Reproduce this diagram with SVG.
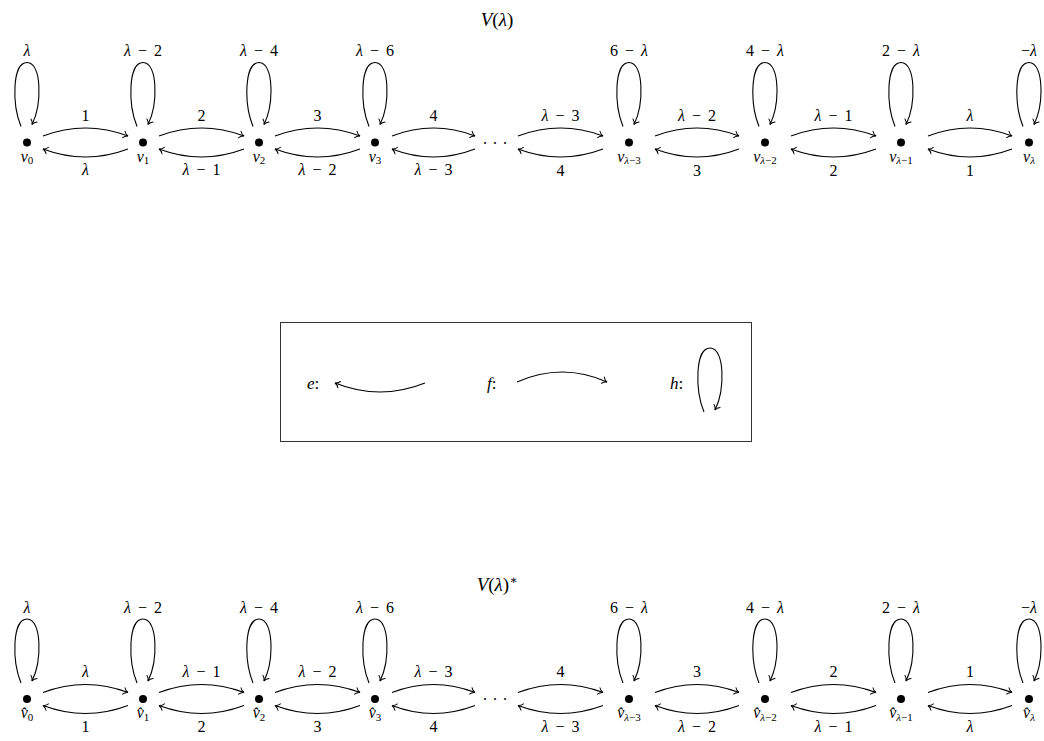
<svg xmlns="http://www.w3.org/2000/svg" width="1044" height="741" viewBox="0 0 1044 741" font-family="'Liberation Serif', 'DejaVu Serif', serif">
<defs>
<marker id="ar" viewBox="-6 -5 8 10" refX="0" refY="0" markerWidth="8" markerHeight="10" markerUnits="userSpaceOnUse" orient="auto" overflow="visible">
<path d="M-4.5,-3.4 C-3.2,-1.3 -1.2,-0.3 0,0 C-1.2,0.3 -3.2,1.3 -4.5,3.4" fill="none" stroke="#000" stroke-width="1" stroke-linecap="round"/>
</marker>
<path id="loop" d="M-6,-16 C-15,-38 -15,-80 0,-80 C15,-80 15,-38 5,-18"/>
</defs>
<style>
text{font-family:"Liberation Serif","DejaVu Serif",serif;fill:#000}
.el{font-size:16px;text-anchor:middle;word-spacing:3px}
.nl{font-size:16px;text-anchor:middle}
.sub{font-size:11px}
.i{font-style:italic}
.t{font-size:19px;text-anchor:middle}
.e{fill:none;stroke:#000;stroke-width:1.1;marker-end:url(#ar)}
.dot{fill:#000}
.box{fill:none;stroke:#333;stroke-width:1}
</style>
<rect width="1044" height="741" fill="#fff"/>

<text class="t" x="497" y="26"><tspan class="i">V</tspan>(<tspan class="i">λ</tspan>)</text>
<text class="t" x="497" y="591"><tspan class="i">V</tspan>(<tspan class="i">λ</tspan>)<tspan font-size="12" dy="-7">∗</tspan></text>

<g id="edges">
<path class="e" d="M43,136 Q85.5,120 128,136"/>
<path class="e" d="M159,136 Q201.5,120 244,136"/>
<path class="e" d="M275,136 Q317.5,120 360,136"/>
<path class="e" d="M392,136 Q433.5,120 475,136"/>
<path class="e" d="M518,136 Q560.5,120 603,136"/>
<path class="e" d="M655,136 Q697,120 739,136"/>
<path class="e" d="M791,136 Q833.5,120 876,136"/>
<path class="e" d="M928,136 Q970,120 1012,136"/>
<path class="e" d="M128,149 Q85.5,165 43,149"/>
<path class="e" d="M244,149 Q201.5,165 159,149"/>
<path class="e" d="M360,149 Q317.5,165 275,149"/>
<path class="e" d="M475,149 Q433.5,165 392,149"/>
<path class="e" d="M603,149 Q560.5,165 518,149"/>
<path class="e" d="M739,149 Q697,165 655,149"/>
<path class="e" d="M876,149 Q833.5,165 791,149"/>
<path class="e" d="M1012,149 Q970,165 928,149"/>

<path class="e" d="M43,692.5 Q85.5,676.5 128,692.5"/>
<path class="e" d="M159,692.5 Q201.5,676.5 244,692.5"/>
<path class="e" d="M275,692.5 Q317.5,676.5 360,692.5"/>
<path class="e" d="M392,692.5 Q433.5,676.5 475,692.5"/>
<path class="e" d="M518,692.5 Q560.5,676.5 603,692.5"/>
<path class="e" d="M655,692.5 Q697,676.5 739,692.5"/>
<path class="e" d="M791,692.5 Q833.5,676.5 876,692.5"/>
<path class="e" d="M928,692.5 Q970,676.5 1012,692.5"/>
<path class="e" d="M128,705.5 Q85.5,721.5 43,705.5"/>
<path class="e" d="M244,705.5 Q201.5,721.5 159,705.5"/>
<path class="e" d="M360,705.5 Q317.5,721.5 275,705.5"/>
<path class="e" d="M475,705.5 Q433.5,721.5 392,705.5"/>
<path class="e" d="M603,705.5 Q560.5,721.5 518,705.5"/>
<path class="e" d="M739,705.5 Q697,721.5 655,705.5"/>
<path class="e" d="M876,705.5 Q833.5,721.5 791,705.5"/>
<path class="e" d="M1012,705.5 Q970,721.5 928,705.5"/>

<use href="#loop" class="e" transform="translate(27,142.5)"/>
<use href="#loop" class="e" transform="translate(143,142.5)"/>
<use href="#loop" class="e" transform="translate(259,142.5)"/>
<use href="#loop" class="e" transform="translate(375,142.5)"/>
<use href="#loop" class="e" transform="translate(629,142.5)"/>
<use href="#loop" class="e" transform="translate(765,142.5)"/>
<use href="#loop" class="e" transform="translate(901,142.5)"/>
<use href="#loop" class="e" transform="translate(1029,142.5)"/>
<use href="#loop" class="e" transform="translate(27,699)"/>
<use href="#loop" class="e" transform="translate(143,699)"/>
<use href="#loop" class="e" transform="translate(259,699)"/>
<use href="#loop" class="e" transform="translate(375,699)"/>
<use href="#loop" class="e" transform="translate(629,699)"/>
<use href="#loop" class="e" transform="translate(765,699)"/>
<use href="#loop" class="e" transform="translate(901,699)"/>
<use href="#loop" class="e" transform="translate(1029,699)"/>

<text class="el" x="85.5" y="120.5">1</text>
<text class="el" x="201.5" y="120.5">2</text>
<text class="el" x="317.5" y="120.5">3</text>
<text class="el" x="433.5" y="120.5">4</text>
<text class="el" x="560.5" y="120.5"><tspan class="i">λ</tspan> − 3</text>
<text class="el" x="697" y="120.5"><tspan class="i">λ</tspan> − 2</text>
<text class="el" x="833.5" y="120.5"><tspan class="i">λ</tspan> − 1</text>
<text class="el" x="970" y="120.5"><tspan class="i">λ</tspan></text>
<text class="el" x="85.5" y="175"><tspan class="i">λ</tspan></text>
<text class="el" x="201.5" y="175"><tspan class="i">λ</tspan> − 1</text>
<text class="el" x="317.5" y="175"><tspan class="i">λ</tspan> − 2</text>
<text class="el" x="433.5" y="175"><tspan class="i">λ</tspan> − 3</text>
<text class="el" x="560.5" y="176">4</text>
<text class="el" x="697" y="176">3</text>
<text class="el" x="833.5" y="176">2</text>
<text class="el" x="970" y="176">1</text>

<text class="el" x="85.5" y="677"><tspan class="i">λ</tspan></text>
<text class="el" x="201.5" y="677"><tspan class="i">λ</tspan> − 1</text>
<text class="el" x="317.5" y="677"><tspan class="i">λ</tspan> − 2</text>
<text class="el" x="433.5" y="677"><tspan class="i">λ</tspan> − 3</text>
<text class="el" x="560.5" y="677">4</text>
<text class="el" x="697" y="677">3</text>
<text class="el" x="833.5" y="677">2</text>
<text class="el" x="970" y="677">1</text>
<text class="el" x="85.5" y="732">1</text>
<text class="el" x="201.5" y="732">2</text>
<text class="el" x="317.5" y="732">3</text>
<text class="el" x="433.5" y="732">4</text>
<text class="el" x="560.5" y="731.5"><tspan class="i">λ</tspan> − 3</text>
<text class="el" x="697" y="731.5"><tspan class="i">λ</tspan> − 2</text>
<text class="el" x="833.5" y="731.5"><tspan class="i">λ</tspan> − 1</text>
<text class="el" x="970" y="731.5"><tspan class="i">λ</tspan></text>

<text class="el" x="27" y="56"><tspan class="i">λ</tspan></text>
<text class="el" x="143" y="56"><tspan class="i">λ</tspan> − 2</text>
<text class="el" x="259" y="56"><tspan class="i">λ</tspan> − 4</text>
<text class="el" x="375" y="56"><tspan class="i">λ</tspan> − 6</text>
<text class="el" x="629" y="56">6 − <tspan class="i">λ</tspan></text>
<text class="el" x="765" y="56">4 − <tspan class="i">λ</tspan></text>
<text class="el" x="901" y="56">2 − <tspan class="i">λ</tspan></text>
<text class="el" x="1029" y="56">−<tspan class="i">λ</tspan></text>
<text class="el" x="27" y="612.5"><tspan class="i">λ</tspan></text>
<text class="el" x="143" y="612.5"><tspan class="i">λ</tspan> − 2</text>
<text class="el" x="259" y="612.5"><tspan class="i">λ</tspan> − 4</text>
<text class="el" x="375" y="612.5"><tspan class="i">λ</tspan> − 6</text>
<text class="el" x="629" y="612.5">6 − <tspan class="i">λ</tspan></text>
<text class="el" x="765" y="612.5">4 − <tspan class="i">λ</tspan></text>
<text class="el" x="901" y="612.5">2 − <tspan class="i">λ</tspan></text>
<text class="el" x="1029" y="612.5">−<tspan class="i">λ</tspan></text>
</g>

<g id="top-nodes">
<g id="v0"><circle class="dot" cx="27" cy="142.5" r="4"/><text class="nl" x="27" y="161.5"><tspan class="i">v</tspan><tspan class="sub" dy="2.5">0</tspan></text></g>
<g id="v1"><circle class="dot" cx="143" cy="142.5" r="4"/><text class="nl" x="143" y="161.5"><tspan class="i">v</tspan><tspan class="sub" dy="2.5">1</tspan></text></g>
<g id="v2"><circle class="dot" cx="259" cy="142.5" r="4"/><text class="nl" x="259" y="161.5"><tspan class="i">v</tspan><tspan class="sub" dy="2.5">2</tspan></text></g>
<g id="v3"><circle class="dot" cx="375" cy="142.5" r="4"/><text class="nl" x="375" y="161.5"><tspan class="i">v</tspan><tspan class="sub" dy="2.5">3</tspan></text></g>
<g id="vdots"><text class="nl" x="498" y="143.5" letter-spacing="6">...</text></g>
<g id="vl3"><circle class="dot" cx="629" cy="142.5" r="4"/><text class="nl" x="629" y="161.5"><tspan class="i">v</tspan><tspan class="sub i" dy="2.5">λ</tspan><tspan class="sub">−3</tspan></text></g>
<g id="vl2"><circle class="dot" cx="765" cy="142.5" r="4"/><text class="nl" x="765" y="161.5"><tspan class="i">v</tspan><tspan class="sub i" dy="2.5">λ</tspan><tspan class="sub">−2</tspan></text></g>
<g id="vl1"><circle class="dot" cx="901" cy="142.5" r="4"/><text class="nl" x="901" y="161.5"><tspan class="i">v</tspan><tspan class="sub i" dy="2.5">λ</tspan><tspan class="sub">−1</tspan></text></g>
<g id="vl"><circle class="dot" cx="1029" cy="142.5" r="4"/><text class="nl" x="1029" y="161.5"><tspan class="i">v</tspan><tspan class="sub i" dy="2.5">λ</tspan></text></g>
</g>

<g id="legend">
<rect class="box" x="280.5" y="322.5" width="471" height="119"/>
<text x="307" y="389" font-size="17"><tspan class="i">e</tspan>:</text>
<path class="e" d="M425,383 Q380,401 335,383"/>
<text x="487" y="389" font-size="17"><tspan class="i">f</tspan>:</text>
<path class="e" d="M517,382 Q562,362 607,382"/>
<text x="670" y="389" font-size="17"><tspan class="i">h</tspan>:</text>
<use href="#loop" class="e" transform="translate(710,428)"/>
</g>

<g id="bottom-nodes">
<g id="w0"><circle class="dot" cx="27" cy="699" r="4"/><text class="nl" x="27" y="718"><tspan class="i">v̂</tspan><tspan class="sub" dy="2.5">0</tspan></text></g>
<g id="w1"><circle class="dot" cx="143" cy="699" r="4"/><text class="nl" x="143" y="718"><tspan class="i">v̂</tspan><tspan class="sub" dy="2.5">1</tspan></text></g>
<g id="w2"><circle class="dot" cx="259" cy="699" r="4"/><text class="nl" x="259" y="718"><tspan class="i">v̂</tspan><tspan class="sub" dy="2.5">2</tspan></text></g>
<g id="w3"><circle class="dot" cx="375" cy="699" r="4"/><text class="nl" x="375" y="718"><tspan class="i">v̂</tspan><tspan class="sub" dy="2.5">3</tspan></text></g>
<g id="wdots"><text class="nl" x="498" y="700" letter-spacing="6">...</text></g>
<g id="wl3"><circle class="dot" cx="629" cy="699" r="4"/><text class="nl" x="629" y="718"><tspan class="i">v̂</tspan><tspan class="sub i" dy="2.5">λ</tspan><tspan class="sub">−3</tspan></text></g>
<g id="wl2"><circle class="dot" cx="765" cy="699" r="4"/><text class="nl" x="765" y="718"><tspan class="i">v̂</tspan><tspan class="sub i" dy="2.5">λ</tspan><tspan class="sub">−2</tspan></text></g>
<g id="wl1"><circle class="dot" cx="901" cy="699" r="4"/><text class="nl" x="901" y="718"><tspan class="i">v̂</tspan><tspan class="sub i" dy="2.5">λ</tspan><tspan class="sub">−1</tspan></text></g>
<g id="wl"><circle class="dot" cx="1029" cy="699" r="4"/><text class="nl" x="1029" y="718"><tspan class="i">v̂</tspan><tspan class="sub i" dy="2.5">λ</tspan></text></g>
</g>
</svg>
